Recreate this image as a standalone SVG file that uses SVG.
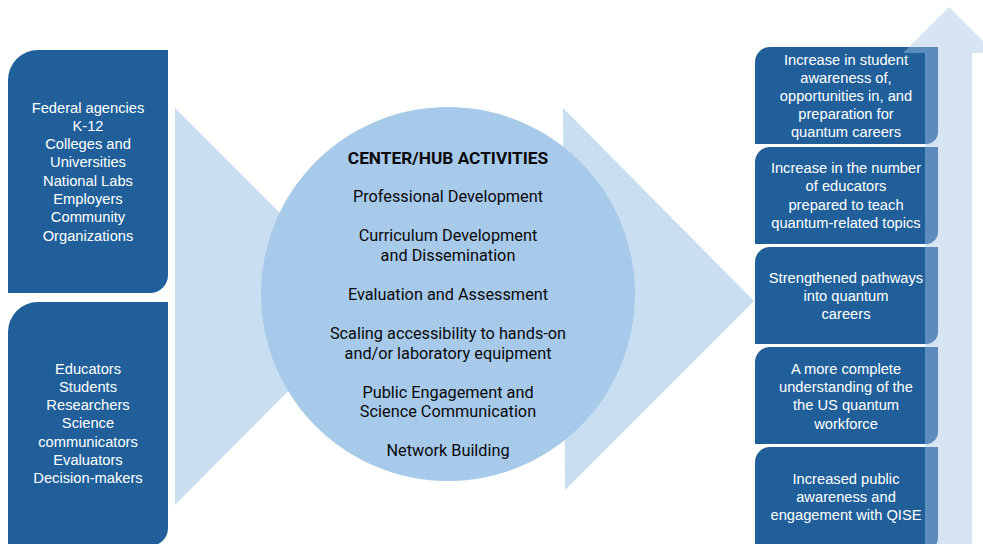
<svg xmlns="http://www.w3.org/2000/svg" width="983" height="544" viewBox="0 0 983 544">
<style>
.box{fill:#215F9A}
.wt{fill:#FFFFFF;font-family:"Liberation Sans",Arial,sans-serif;font-size:14.7px;text-anchor:middle}
.ct{fill:#0A0A0A;font-family:Roboto,"Liberation Sans",sans-serif;font-size:16.3px;text-anchor:middle}
.ctb{font-weight:bold;font-size:17.3px}
</style>
<rect width="983" height="544" fill="#FFFFFF"/>
<g id="connectors">
<polygon id="left-arrow" points="175,108 373,306 175,505" fill="#CADEF2"/>
<polygon id="right-arrow" points="563,108 754,301 565,490" fill="#CADEF2"/>
</g>
<g id="stakeholders-orgs">
<path class="box" d="M8,80 A30,30 0 0 1 38,50 H168 V275 A18,18 0 0 1 150,293 H8 Z"/>
<text class="wt" x="88" y="113">Federal agencies</text>
<text class="wt" x="88" y="131">K-12</text>
<text class="wt" x="88" y="149">Colleges and</text>
<text class="wt" x="88" y="167">Universities</text>
<text class="wt" x="88" y="186">National Labs</text>
<text class="wt" x="88" y="204">Employers</text>
<text class="wt" x="88" y="222">Community</text>
<text class="wt" x="88" y="241">Organizations</text>
</g>
<g id="stakeholders-people">
<path class="box" d="M8,332 A30,30 0 0 1 38,302 H168 V528 A18,18 0 0 1 150,546 H8 Z"/>
<text class="wt" x="88" y="374">Educators</text>
<text class="wt" x="88" y="392">Students</text>
<text class="wt" x="88" y="410">Researchers</text>
<text class="wt" x="88" y="428">Science</text>
<text class="wt" x="88" y="447">communicators</text>
<text class="wt" x="88" y="465">Evaluators</text>
<text class="wt" x="88" y="483">Decision-makers</text>
</g>
<g id="center-hub">
<circle cx="448" cy="294" r="187" fill="#A7C9EA"/>
<text class="ct ctb" x="448" y="164">CENTER/HUB ACTIVITIES</text>
<text class="ct" x="448" y="202">Professional Development</text>
<text class="ct" x="448" y="241">Curriculum Development</text>
<text class="ct" x="448" y="261">and Dissemination</text>
<text class="ct" x="448" y="300">Evaluation and Assessment</text>
<text class="ct" x="448" y="339">Scaling accessibility to hands-on</text>
<text class="ct" x="448" y="359">and/or laboratory equipment</text>
<text class="ct" x="448" y="398">Public Engagement and</text>
<text class="ct" x="448" y="417">Science Communication</text>
<text class="ct" x="448" y="456">Network Building</text>
</g>
<g id="outcome-1">
<path class="box" d="M755,62 A15,15 0 0 1 770,47 H938 V132 A12,12 0 0 1 926,144 H755 Z"/>
<text class="wt" x="846" y="65">Increase in student</text>
<text class="wt" x="846" y="83">awareness of,</text>
<text class="wt" x="846" y="101">opportunities in, and</text>
<text class="wt" x="846" y="119">preparation for</text>
<text class="wt" x="846" y="137">quantum careers</text>
</g>
<g id="outcome-2">
<path class="box" d="M755,162 A15,15 0 0 1 770,147 H938 V232 A12,12 0 0 1 926,244 H755 Z"/>
<text class="wt" x="846" y="173">Increase in the number</text>
<text class="wt" x="846" y="191">of educators</text>
<text class="wt" x="846" y="210">prepared to teach</text>
<text class="wt" x="846" y="228">quantum-related topics</text>
</g>
<g id="outcome-3">
<path class="box" d="M755,262 A15,15 0 0 1 770,247 H938 V332 A12,12 0 0 1 926,344 H755 Z"/>
<text class="wt" x="846" y="283">Strengthened pathways</text>
<text class="wt" x="846" y="301">into quantum</text>
<text class="wt" x="846" y="319">careers</text>
</g>
<g id="outcome-4">
<path class="box" d="M755,362 A15,15 0 0 1 770,347 H938 V432 A12,12 0 0 1 926,444 H755 Z"/>
<text class="wt" x="846" y="374">A more complete</text>
<text class="wt" x="846" y="392">understanding of the</text>
<text class="wt" x="846" y="410">the US quantum</text>
<text class="wt" x="846" y="429">workforce</text>
</g>
<g id="outcome-5">
<path class="box" d="M755,462 A15,15 0 0 1 770,447 H938 V538 A12,12 0 0 1 926,550 H755 Z"/>
<text class="wt" x="846" y="484">Increased public</text>
<text class="wt" x="846" y="502">awareness and</text>
<text class="wt" x="846" y="520">engagement with QISE</text>
</g>
<g id="up-arrow">
<polygon points="949,7 995,53 972,53 972,560 925,560 925,53 903,53" fill="#A4C3E5" fill-opacity="0.45"/>
</g>
</svg>
